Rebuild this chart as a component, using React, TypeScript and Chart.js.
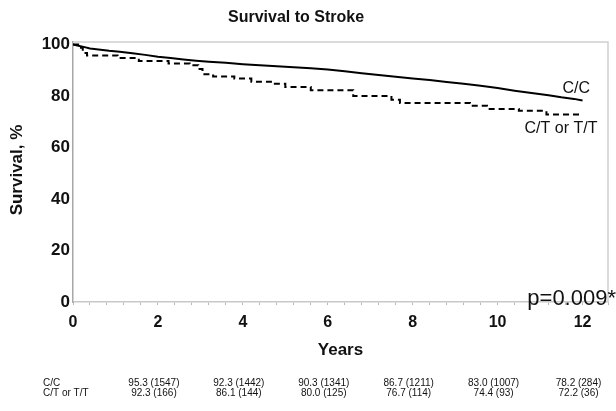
import React, { useEffect, useRef } from "react";
import { Chart, registerables } from "chart.js";

Chart.register(...registerables);

// Kaplan-Meier curves (years, survival %)
const ccTimes = [0, 0.1, 0.25, 0.4, 0.6, 0.85, 1.1, 1.4, 1.7, 2.0, 2.3, 2.6, 2.9, 3.2, 3.6, 4.0, 4.4, 4.8, 5.2, 5.6, 6.0, 6.4, 6.8, 7.2, 7.6, 8.0, 8.4, 8.8, 9.2, 9.6, 10.0, 10.4, 10.8, 11.2, 11.5, 11.8, 12.0];
const ccSurvival = [100, 99.6, 99.1, 98.5, 98.1, 97.6, 97.2, 96.6, 96.0, 95.3, 94.8, 94.2, 93.7, 93.3, 92.9, 92.4, 92.0, 91.6, 91.2, 90.8, 90.3, 89.6, 88.9, 88.2, 87.5, 86.8, 86.2, 85.5, 84.8, 84.0, 83.1, 82.1, 81.2, 80.3, 79.5, 78.9, 78.3];

const ctTimes = [0, 0.12, 0.23, 0.33, 1.05, 1.55, 2.25, 2.75, 2.95, 3.05, 3.3, 3.8, 4.2, 4.7, 5.0, 5.6, 6.6, 7.5, 7.7, 9.35, 9.75, 10.5, 11.15, 12.0];
const ctSurvival = [100, 98.8, 96.7, 95.8, 94.8, 93.6, 92.6, 92.0, 90.5, 88.5, 87.6, 86.8, 85.6, 84.8, 83.5, 82.3, 80.0, 78.6, 77.3, 76.2, 75.0, 74.3, 72.8, 72.6];

const seriesNames = ["C/C", "C/T or T/T"];
const yTickValues = [0, 20, 40, 60, 80, 100];
const riskYears = [2, 4, 6, 8, 10, 12];
const ccRisk = ["95.3 (1547)", "92.3 (1442)", "90.3 (1341)", "86.7 (1211)", "83.0 (1007)", "78.2 (284)"];
const ctRisk = ["92.3 (166)", "86.1 (144)", "80.0 (125)", "76.7 (114)", "74.4 (93)", "72.2 (36)"];

const titleText = "Survival to Stroke";
const xTitle = "Years";
const yTitle = "Survival, %";
const pText = "p=0.009*";

const FONT = "'Liberation Sans', Arial, Helvetica, sans-serif";

const overlayPlugin = {
  id: "overlay",
  afterDraw(chart: any) {
    const { ctx, chartArea: ca, scales } = chart;
    const xs = scales.x;
    const ys = scales.y;
    ctx.save();
    // frame top & right
    ctx.strokeStyle = "#d0d0d0";
    ctx.lineWidth = 1.5;
    ctx.beginPath();
    ctx.moveTo(ca.left, ca.top);
    ctx.lineTo(ca.right, ca.top);
    ctx.lineTo(ca.right, ca.bottom);
    ctx.stroke();

    ctx.fillStyle = "#111";
    // title
    ctx.font = `bold 16px ${FONT}`;
    ctx.textAlign = "center";
    ctx.textBaseline = "alphabetic";
    ctx.fillText(titleText, 296, 22);

    // curve labels
    ctx.font = `16px ${FONT}`;
    ctx.textAlign = "left";
    const ccEndX = xs.getPixelForValue(ccTimes[ccTimes.length - 1]);
    const ccEndY = ys.getPixelForValue(ccSurvival[ccSurvival.length - 1]);
    ctx.fillText(seriesNames[0], ccEndX - 20, ccEndY - 7);
    const ctEndX = xs.getPixelForValue(ctTimes[ctTimes.length - 1]);
    const ctEndY = ys.getPixelForValue(ctSurvival[ctSurvival.length - 1]);
    ctx.fillText(seriesNames[1], ctEndX - 58, ctEndY + 18);

    // p value
    ctx.font = `22px ${FONT}`;
    ctx.textAlign = "right";
    ctx.fillText(pText, 616, 305);

    // axis titles
    ctx.font = `bold 17px ${FONT}`;
    ctx.textAlign = "center";
    ctx.textBaseline = "middle";
    ctx.fillText(xTitle, (ca.left + ca.right) / 2, 350);
    ctx.save();
    ctx.translate(17.5, 170);
    ctx.rotate(-Math.PI / 2);
    ctx.fillText(yTitle, 0, 0);
    ctx.restore();

    // risk table
    ctx.font = `10px ${FONT}`;
    ctx.textAlign = "left";
    ctx.fillText(seriesNames[0], 43, 383);
    ctx.fillText(seriesNames[1], 43, 393.5);
    ctx.textAlign = "center";
    riskYears.forEach((yr, i) => {
      const px = xs.getPixelForValue(yr) - 4;
      ctx.fillText(ccRisk[i], px, 383);
      ctx.fillText(ctRisk[i], px, 393.5);
    });
    ctx.restore();
  },
};

export default function App() {
  const ref = useRef<HTMLCanvasElement | null>(null);
  useEffect(() => {
    if (!ref.current) return;
    const chart = new Chart(ref.current, {
      type: "line",
      data: {
        datasets: [
          {
            label: seriesNames[0],
            data: ccTimes.map((t, i) => ({ x: t, y: ccSurvival[i] })),
            borderColor: "#000",
            borderWidth: 2,
            pointRadius: 0,
            stepped: false,
            tension: 0,
            fill: false,
          },
          {
            label: seriesNames[1],
            data: ctTimes.map((t, i) => ({ x: t, y: ctSurvival[i] })),
            borderColor: "#000",
            borderWidth: 2,
            borderDash: [6, 4],
            pointRadius: 0,
            stepped: true,
            fill: false,
          },
        ],
      },
      options: {
        animation: false,
        responsive: false,
        devicePixelRatio: 1,
        layout: { padding: { left: 0, right: 4, top: 42, bottom: 0 } },
        plugins: {
          legend: { display: false },
          title: { display: false },
          tooltip: { enabled: false },
        },
        scales: {
          x: {
            type: "linear",
            min: 0,
            max: 12.6,
            afterFit: (s: any) => {
              s.height = 109;
            },
            grid: {
              display: true,
              drawOnChartArea: false,
              drawTicks: true,
              tickLength: 3,
              color: "#b8b8b8",
              lineWidth: 1,
            },
            border: { display: true, color: "#c8c8c8", width: 1.5 },
            ticks: {
              stepSize: 0.4,
              autoSkip: false,
              maxRotation: 0,
              padding: 8,
              color: "#111",
              font: { family: FONT, size: 16, weight: "bold" },
              callback: (v: any) => {
                const n = Number(v);
                const r = Math.round(n);
                return Math.abs(n - r) < 1e-6 && r % 2 === 0 ? String(r) : "";
              },
            },
          },
          y: {
            type: "linear",
            min: 0,
            max: 101,
            afterFit: (s: any) => {
              s.width = 73;
            },
            afterBuildTicks: (s: any) => {
              s.ticks = yTickValues.map((v) => ({ value: v }));
            },
            grid: { display: false, drawTicks: false },
            border: { display: true, color: "#a8a8a8", width: 1.5, dash: [1.5, 2] },
            ticks: {
              autoSkip: false,
              padding: 3,
              color: "#111",
              font: { family: FONT, size: 17, weight: "bold" },
              callback: (v: any) => String(v),
            },
          },
        },
      },
      plugins: [overlayPlugin],
    });
    return () => chart.destroy();
  }, []);
  return (
    <div style={{ position: "fixed", left: 0, top: 0, width: 616, height: 411, background: "#fff" }}>
      <canvas ref={ref} width={616} height={411} style={{ width: 616, height: 411 }} />
    </div>
  );
}
